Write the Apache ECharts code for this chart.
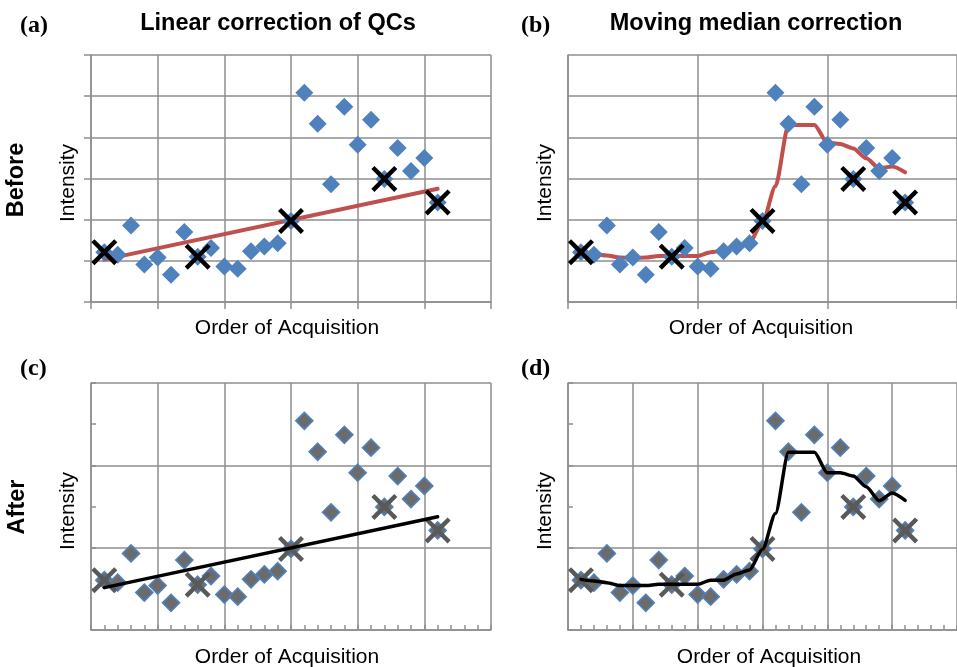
<!DOCTYPE html>
<html><head><meta charset="utf-8">
<script src="https://cdn.jsdelivr.net/npm/echarts@6/dist/echarts.min.js"></script>
<style>html,body{margin:0;padding:0;background:#fff;overflow:hidden}#c{width:957px;height:667px}</style>
</head><body><div id="c"></div>
<script>
// ---- data ----
const order = [1,2,3,4,5,6,7,8,9,10,11,12,13,14,15,16,17,18,19,20,21,22,23,24,25,26];
const samples = [1.21,1.15,1.86,0.91,1.08,0.66,1.70,1.10,1.31,0.86,0.81,1.23,1.35,1.43,1.97,5.08,4.33,2.86,4.74,3.82,4.43,2.99,3.74,3.18,3.50,2.42];
const qcOrder = [1,8,15,22,26];
const qcValues = [1.21,1.10,1.97,2.99,2.42];
const linearX = [1,26];
const linearY = [1.03,2.75];
const medianBefore = [1.21,1.17,1.13,1.08,1.07,1.08,1.12,1.13,1.12,1.12,1.21,1.25,1.35,1.45,1.93,2.81,4.30,4.30,4.30,3.87,3.84,3.73,3.49,3.25,3.29,3.15];
const medianAfter = [1.23,1.19,1.15,1.08,1.08,1.08,1.11,1.11,1.11,1.11,1.21,1.21,1.36,1.46,1.96,2.83,4.32,4.32,4.32,3.82,3.82,3.74,3.48,3.14,3.33,3.15];
const panelLetters = ['(a)','(b)','(c)','(d)'];
const columnTitles = ['Linear correction of QCs','Moving median correction'];
const rowLabels = ['Before','After'];
const yAxisTitle = 'Intensity';
const xAxisTitle = 'Order of Acquisition';

// ---- helpers ----
const zip = (xs, ys) => xs.map((x, i) => [x, ys[i]]);
const sampleData = zip(order, samples);
const qcData = zip(qcOrder, qcValues);
const linearData = zip(linearX, linearY);
const GRID = '#8e8e8e';
const BLUE = '#4F81BD';
const RED = '#C0504D';
const XPATH = 'path://M0,12 L12,0 L50,38 L88,0 L100,12 L62,50 L100,88 L88,100 L50,62 L12,100 L0,88 L38,50 Z';
const SANS = '"Liberation Sans", Arial, sans-serif';
const SERIF = '"Liberation Serif", "Times New Roman", serif';

const grids = [
  {left: 91, top: 55, width: 400, height: 247},
  {left: 568, top: 55, width: 395, height: 247},
  {left: 91, top: 383, width: 400, height: 247},
  {left: 568, top: 383, width: 395, height: 247}
];
const lineStyle = {color: GRID, width: 1.5};
function xAxis(i, cfg) {
  return Object.assign({
    type: 'value', gridIndex: i, min: 0, max: 30,
    axisLine: {show: true, lineStyle},
    axisLabel: {show: false},
    splitLine: {show: true, lineStyle}
  }, cfg);
}
function yAxis(i, cfg) {
  return Object.assign({
    type: 'value', gridIndex: i, min: 0, max: 6, position: 'left',
    axisLine: {show: true, lineStyle},
    axisLabel: {show: false},
    splitLine: {show: true, lineStyle}
  }, cfg);
}
const xAxes = [
  xAxis(0, {interval: 5, axisTick: {show: true, length: 7, lineStyle}}),
  xAxis(1, {interval: 10, axisTick: {show: true, length: 7, lineStyle}}),
  xAxis(2, {interval: 5, axisTick: {show: true, inside: true, length: 5, lineStyle},
    minorTick: {show: true, splitNumber: 5, length: 5, lineStyle}}),
  xAxis(3, {interval: 5, axisTick: {show: true, inside: true, length: 5, lineStyle},
    minorTick: {show: true, splitNumber: 5, length: 5, lineStyle}})
];
const yAxes = [
  yAxis(0, {interval: 1, axisTick: {show: true, length: 7, lineStyle}}),
  yAxis(1, {interval: 1, axisTick: {show: false}}),
  // data axes for the "after" panels: ticks every unit, inside
  yAxis(2, {interval: 1, axisTick: {show: true, inside: true, length: 5, lineStyle}, splitLine: {show: false}}),
  yAxis(3, {interval: 1, axisTick: {show: true, inside: true, length: 5, lineStyle}, splitLine: {show: false}}),
  // grid-line axes for the "after" panels: lines every two units
  yAxis(2, {interval: 2, axisLine: {show: false}, axisTick: {show: false}}),
  yAxis(3, {interval: 2, axisLine: {show: false}, axisTick: {show: false}})
];

function sampleSeries(i, after) {
  return {type: 'scatter', xAxisIndex: i, yAxisIndex: i, data: sampleData, z: 3,
    symbol: 'diamond', symbolSize: after ? 17 : 18,
    itemStyle: after ? {color: '#6b6b6b', borderColor: BLUE, borderWidth: 1.6, opacity: 1} : {color: BLUE, opacity: 1},
    emphasis: {disabled: true}, silent: true};
}
function qcSeries(i, after) {
  return {type: 'scatter', xAxisIndex: i, yAxisIndex: i, data: qcData, z: 4,
    symbol: XPATH, symbolSize: 26,
    itemStyle: {color: after ? '#595959' : '#000', opacity: 1},
    emphasis: {disabled: true}, silent: true};
}
function lineSeries(i, data, color, width, smooth, z) {
  return {type: 'line', xAxisIndex: i, yAxisIndex: i, data, z,
    showSymbol: false, symbol: 'none', smooth: smooth, smoothMonotone: 'x',
    lineStyle: {color, width, cap: 'round', join: 'round'},
    emphasis: {disabled: true}, silent: true};
}

const series = [
  lineSeries(0, linearData, RED, 4, false, 2),
  sampleSeries(0, false), qcSeries(0, false),
  lineSeries(1, zip(order, medianBefore), RED, 4, 0.25, 2),
  sampleSeries(1, false), qcSeries(1, false),
  sampleSeries(2, true), qcSeries(2, true),
  lineSeries(2, linearData, '#000', 3.5, false, 5),
  sampleSeries(3, true), qcSeries(3, true),
  lineSeries(3, zip(order, medianAfter), '#000', 3.5, 0.25, 5)
];

function txt(x, y, text, font, opts) {
  opts = opts || {};
  return {type: 'text', x, y, rotation: opts.rot || 0, silent: true, z: 10,
    style: {x: 0, y: 0, text, font, fill: '#000',
      textAlign: opts.align || 'center', textVerticalAlign: 'middle'}};
}
const TITLE_FONT = 'bold 23.5px ' + SANS;
const LET_FONT = 'bold 24px ' + SERIF;
const AX_FONT = '21px ' + SANS;
const graphic = [
  txt(20, 26, panelLetters[0], LET_FONT, {align: 'left'}),
  txt(521, 26, panelLetters[1], LET_FONT, {align: 'left'}),
  txt(20, 369, panelLetters[2], LET_FONT, {align: 'left'}),
  txt(521, 369, panelLetters[3], LET_FONT, {align: 'left'}),
  txt(278, 24, columnTitles[0], TITLE_FONT),
  txt(756, 24, columnTitles[1], TITLE_FONT),
  txt(17, 180, rowLabels[0], TITLE_FONT, {rot: Math.PI / 2}),
  txt(17.5, 507, rowLabels[1], TITLE_FONT, {rot: Math.PI / 2}),
  txt(68.5, 183, yAxisTitle, AX_FONT, {rot: Math.PI / 2}),
  txt(545, 183, yAxisTitle, AX_FONT, {rot: Math.PI / 2}),
  txt(68, 511, yAxisTitle, AX_FONT, {rot: Math.PI / 2}),
  txt(545, 511, yAxisTitle, AX_FONT, {rot: Math.PI / 2}),
  txt(287, 328, xAxisTitle, AX_FONT),
  txt(761, 328, xAxisTitle, AX_FONT),
  txt(287, 657, xAxisTitle, AX_FONT),
  txt(769, 657, xAxisTitle, AX_FONT)
];

const chart = echarts.init(document.getElementById('c'), null, {renderer: 'canvas'});
chart.setOption({
  animation: false,
  backgroundColor: '#fff',
  grid: grids,
  xAxis: xAxes,
  yAxis: yAxes,
  series,
  graphic
});
</script></body></html>
